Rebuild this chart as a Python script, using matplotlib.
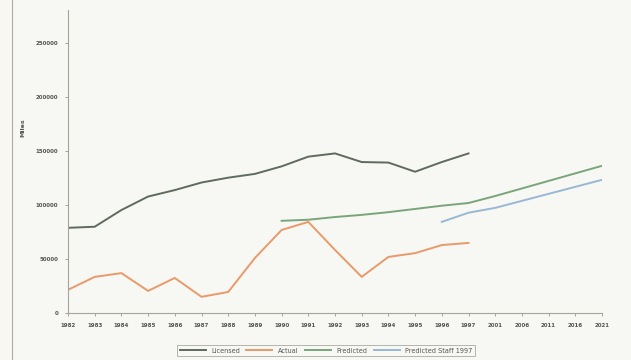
import matplotlib
matplotlib.use('Agg')
import matplotlib.pyplot as plt
import numpy as np

# category axis
years = ['1982', '1983', '1984', '1985', '1986', '1987', '1988', '1989', '1990',
         '1991', '1992', '1993', '1994', '1995', '1996', '1997',
         '2001', '2006', '2011', '2016', '2021']

# series values (None = no data)
licensed = [79000, 80000, 95500, 108000, 114000, 121000, 125500, 129000, 136000,
            145000, 148000, 140000, 139500, 131000, 140000, 148000,
            None, None, None, None, None]
actual = [21500, 33500, 37000, 20500, 32500, 15000, 19500, 51000, 77000,
          84500, 58500, 33500, 52000, 55500, 63000, 65000,
          None, None, None, None, None]
predicted = [None, None, None, None, None, None, None, None, 85500,
             86500, 89000, 91000, 93500, 96500, 99500, 102000,
             108500, 115500, 122500, 129500, 136500]
predicted_staff = [None, None, None, None, None, None, None, None, None,
                   None, None, None, None, None, 84500, 93000,
                   97500, 104000, 110500, 117000, 123500]

series = [
    ('Licensed', licensed, '#5f6b5c'),
    ('Actual', actual, '#e99a6a'),
    ('Predicted', predicted, '#7aa57a'),
    ('Predicted Staff 1997', predicted_staff, '#98b8d4'),
]

bg = '#f7f7f4'
fig = plt.figure(figsize=(6.31, 3.6), dpi=100, facecolor=bg)
ax = fig.add_axes([68 / 631, 47 / 360, 534 / 631, 303 / 360])
ax.set_facecolor(bg)

x = np.arange(len(years))
for name, vals, color in series:
    y = np.array([np.nan if v is None else v for v in vals], dtype=float)
    ax.plot(x, y, color=color, linewidth=1.4, label=name)

ax.set_xlim(0, len(years) - 1)
ax.set_ylim(0, 281000)
ax.set_xticks(x)
ax.set_xticklabels(years)
ax.set_yticks([0, 50000, 100000, 150000, 200000, 250000])
ax.tick_params(axis='both', labelsize=4, colors='#9a958c', length=2, width=0.6,
               labelcolor='#555550', pad=5)
for lbl in ax.get_xticklabels() + ax.get_yticklabels():
    lbl.set_fontweight('bold')

for side in ('top', 'right'):
    ax.spines[side].set_visible(False)
for side in ('left', 'bottom'):
    ax.spines[side].set_color('#a8a298')
    ax.spines[side].set_linewidth(0.8)

ax.set_ylabel('Miles', fontsize=4.5, fontweight='bold', color='#555550')
ax.yaxis.set_label_coords(-0.08, 0.61)

leg = ax.legend(loc='upper center', bbox_to_anchor=(0.483, -0.095), ncol=4,
                fontsize=4.7, frameon=True, handlelength=4, columnspacing=1.0,
                fancybox=False, borderpad=0.4)
leg.get_frame().set_edgecolor('#9a958c')
leg.get_frame().set_facecolor(bg)
leg.get_frame().set_linewidth(0.6)
for t in leg.get_texts():
    t.set_color('#555550')

# outer frame edge of the scanned page
fig.add_artist(plt.Line2D([12 / 631, 12 / 631], [0, 1], color='#b0aca4',
                          linewidth=0.8, transform=fig.transFigure))

fig.savefig('out.png', dpi=100, facecolor=bg)
